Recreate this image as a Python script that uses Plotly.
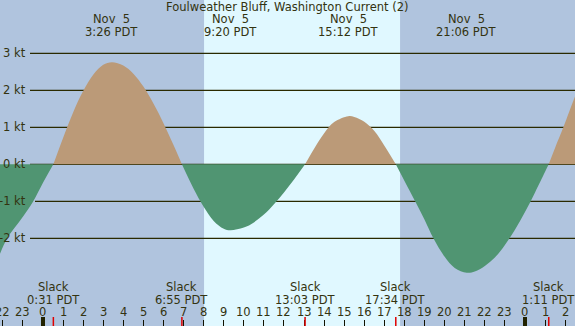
import plotly.graph_objects as go

# ---- data (hours relative to Nov 5 00:00 PDT, current in knots) ----
lobe_times = [
    [-2.14, -1.78, -1.0, -0.483, 0.0, 0.517],
    [0.517, 1.0, 1.5, 2.0, 2.5, 3.0, 3.43, 4.0, 4.5, 5.0, 5.5, 6.0, 6.5, 6.917],
    [6.917, 7.5, 8.0, 8.5, 9.0, 9.33, 10.0, 10.5, 11.0, 11.5, 12.0, 12.5, 13.05],
    [13.05, 13.5, 14.0, 14.5, 15.2, 15.5, 16.0, 16.5, 17.0, 17.567],
    [17.567, 18.0, 18.53, 19.0, 19.44, 20.0, 20.5, 21.1, 21.5, 22.0, 22.5, 23.0,
     23.5, 24.0, 24.5, 25.0, 25.18],
    [25.18, 25.5, 25.91, 26.2, 26.49],
]
lobe_values = [
    [-2.42, -2.0, -1.42, -1.0, -0.5, 0.0],
    [0.0, 0.71, 1.40, 1.98, 2.42, 2.69, 2.76, 2.67, 2.45, 2.10, 1.64, 1.11, 0.52, 0.0],
    [0.0, -0.66, -1.15, -1.53, -1.74, -1.78, -1.71, -1.57, -1.36, -1.08, -0.76, -0.41, 0.0],
    [0.0, 0.42, 0.84, 1.14, 1.30, 1.28, 1.15, 0.90, 0.50, 0.0],
    [0.0, -0.45, -1.0, -1.5, -2.0, -2.5, -2.8, -2.93, -2.9, -2.75, -2.52, -2.18,
     -1.77, -1.29, -0.76, -0.20, 0.0],
    [0.0, 0.45, 1.0, 1.42, 1.83],
]

peak_times = [3.433, 9.333, 15.2, 21.1]
peak_labels = ["3:26 PDT", "9:20 PDT", "15:12 PDT", "21:06 PDT"]
peak_dates = ["Nov\u00a0\u00a05"] * 4

slack_times = [0.517, 6.917, 13.05, 17.567, 25.183]
slack_labels = ["0:31 PDT", "6:55 PDT", "13:03 PDT", "17:34 PDT", "1:11 PDT"]

sunrise, sunset = 8.02, 17.78
midnights = [0, 24]
hour_ticks = list(range(-2, 27))
hour_labels = [str(h % 24) for h in hour_ticks]
kt_ticks = [3, 2, 1, 0, -1, -2]
kt_labels = ["3 kt", "2 kt", "1 kt", "0 kt", "-1 kt", "-2 kt"]

TITLE = "Foulweather Bluff, Washington Current (2)"

NIGHT = "#b0c4de"
DAY = "#e0f8ff"
FLOOD = "#bb9a78"
EBB = "#509572"
INK = "#2a2a00"
TXT = "#333310"
FONT = "DejaVu Sans"
FS = 11.5

W, H = 575, 326
XR = [-2.14, 26.49]
YR = [-4.37, 4.44]

fig = go.Figure()

for t, v in zip(lobe_times, lobe_values):
    pos = max(v) > 0
    fig.add_trace(go.Scatter(
        x=t, y=v, mode="lines", line=dict(width=0, shape="spline", smoothing=1.0),
        fill="tozeroy", fillcolor=FLOOD if pos else EBB, hoverinfo="skip",
        showlegend=False))

shapes = []
# daylight band
shapes.append(dict(type="rect", xref="x", yref="paper", x0=sunrise, x1=sunset,
                   y0=0, y1=1, fillcolor=DAY, line=dict(width=0), layer="below"))
# gridlines (behind fills)
for k, lab in zip(kt_ticks, kt_labels):
    x0px = 35 if lab.startswith("-1") else 30
    shapes.append(dict(type="line", xref="paper", yref="y", x0=x0px / W, x1=1,
                       y0=k, y1=k, line=dict(color=INK, width=1.3), layer="below"))
# midnight ticks
for m in midnights:
    shapes.append(dict(type="line", xref="x", yref="paper", x0=m, x1=m,
                       y0=0, y1=9 / H, line=dict(color="#222200", width=4)))
# slack ticks
for s in slack_times:
    shapes.append(dict(type="line", xref="x", yref="paper", x0=s, x1=s,
                       y0=0, y1=9 / H, line=dict(color="#e00000", width=1.5)))

ann = []
ann.append(dict(text=TITLE, xref="paper", yref="paper", x=0.5, y=1 - 7.5 / H,
                showarrow=False, font=dict(family=FONT, size=FS, color=TXT),
                xanchor="center", yanchor="middle"))
for k, lab in zip(kt_ticks, kt_labels):
    ann.append(dict(text=lab, xref="paper", yref="y", x=28 / W, y=k, showarrow=False,
                    xanchor="right", yanchor="middle",
                    font=dict(family=FONT, size=FS, color=TXT)))
for t, d, l in zip(peak_times, peak_dates, peak_labels):
    ann.append(dict(text=d, xref="x", yref="paper", x=t, y=1 - 19.3 / H, showarrow=False,
                    xanchor="center", yanchor="middle",
                    font=dict(family=FONT, size=FS, color=TXT)))
    ann.append(dict(text=l, xref="x", yref="paper", x=t, y=1 - 31.7 / H, showarrow=False,
                    xanchor="center", yanchor="middle",
                    font=dict(family=FONT, size=FS, color=TXT)))
for s, l in zip(slack_times, slack_labels):
    ann.append(dict(text="Slack", xref="x", yref="paper", x=s, y=1 - 287.3 / H,
                    showarrow=False, xanchor="center", yanchor="middle",
                    font=dict(family=FONT, size=FS, color=TXT)))
    ann.append(dict(text=l, xref="x", yref="paper", x=s, y=1 - 300 / H,
                    showarrow=False, xanchor="center", yanchor="middle",
                    font=dict(family=FONT, size=FS, color=TXT)))
for h, l in zip(hour_ticks, hour_labels):
    ann.append(dict(text=l, xref="x", yref="paper", x=h, y=1 - 311.7 / H,
                    showarrow=False, xanchor="center", yanchor="middle",
                    font=dict(family=FONT, size=FS, color=TXT)))

fig.update_layout(
    width=W, height=H, margin=dict(l=0, r=0, t=0, b=0),
    paper_bgcolor=NIGHT, plot_bgcolor=NIGHT,
    shapes=shapes, annotations=ann, showlegend=False,
    xaxis=dict(range=XR, showgrid=False, zeroline=False, showline=False,
               tickvals=hour_ticks, ticks="inside", ticklen=6, tickwidth=1,
               tickcolor="#111100", showticklabels=False, fixedrange=True),
    yaxis=dict(range=YR, showgrid=False, zeroline=False, showline=False,
               showticklabels=False, ticks="", fixedrange=True),
)

fig.write_html(
    "out.html",
    config={"displayModeBar": False, "staticPlot": True},
    post_script="document.body.style.margin='0';document.body.style.padding='0';"
                "document.body.style.overflow='hidden';",
)
